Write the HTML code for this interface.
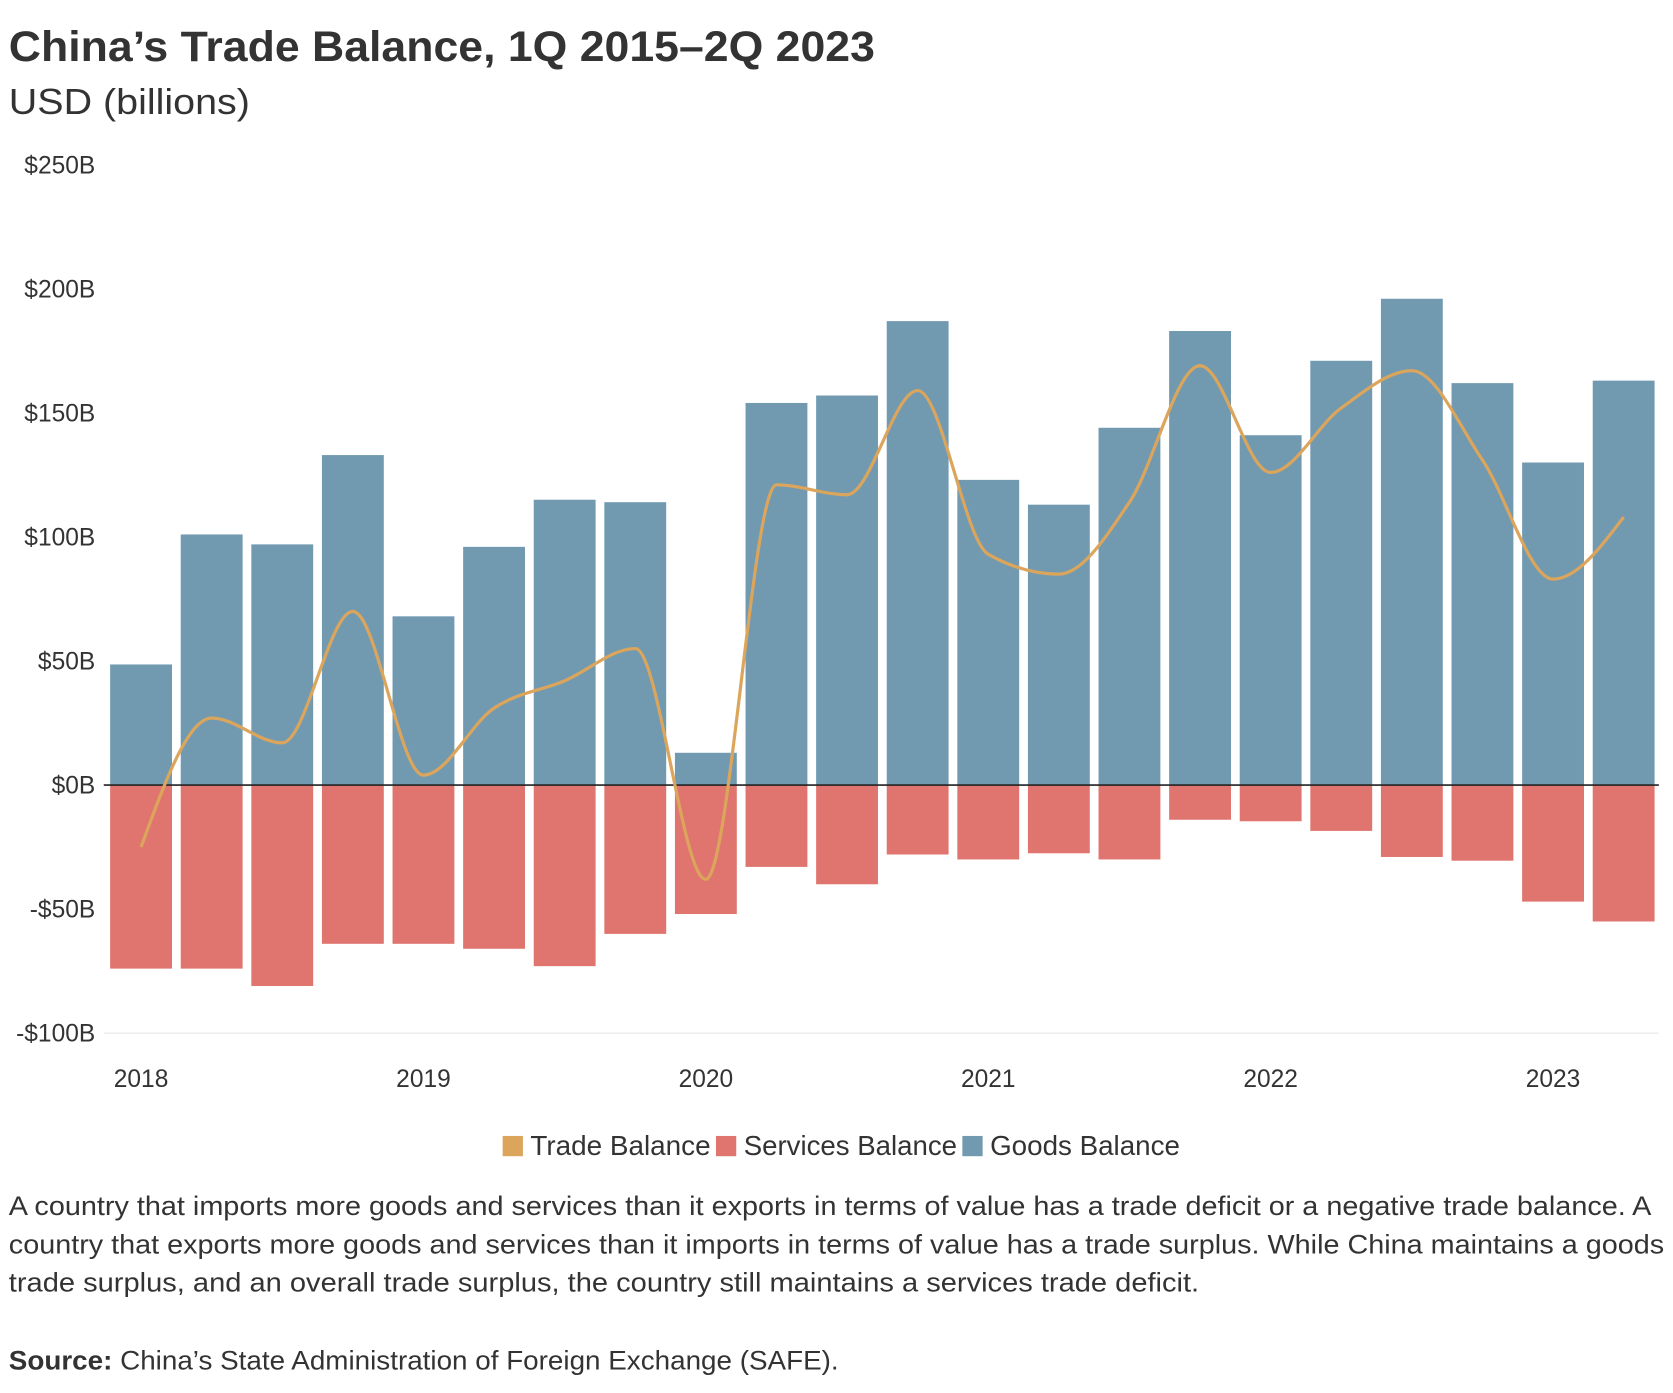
<!DOCTYPE html>
<html><head><meta charset="utf-8"><style>
html,body{margin:0;padding:0;background:#fff;}
svg{display:block;}
text{font-family:"Liberation Sans",sans-serif;fill:#333;}
</style></head><body>
<svg id="chart" width="1673" height="1393" viewBox="0 0 1568 1306" xmlns="http://www.w3.org/2000/svg">
<text x="8" y="57" font-size="40" font-weight="bold" textLength="812" lengthAdjust="spacingAndGlyphs">China’s Trade Balance, 1Q 2015–2Q 2023</text>
<text x="8" y="107" font-size="34" textLength="226" lengthAdjust="spacingAndGlyphs">USD (billions)</text>
<g id="yticks"></g>
<g id="bars"></g>
<g id="line"></g>
<g id="xticks"></g>
<g>
<rect x="471" y="1065" width="19" height="19" fill="#dca55c"/>
<text x="497" y="1083" font-size="26" textLength="169" lengthAdjust="spacingAndGlyphs">Trade Balance</text>
<rect x="671" y="1065" width="19" height="19" fill="#e0756f"/>
<text x="697" y="1083" font-size="26" textLength="200" lengthAdjust="spacingAndGlyphs">Services Balance</text>
<rect x="902" y="1065" width="19" height="19" fill="#719ab1"/>
<text x="928" y="1083" font-size="26" textLength="178" lengthAdjust="spacingAndGlyphs">Goods Balance</text>
</g>
<g font-size="25">
<text x="8" y="1139" textLength="1540" lengthAdjust="spacingAndGlyphs">A country that imports more goods and services than it exports in terms of value has a trade deficit or a negative trade balance. A</text>
<text x="8" y="1175" textLength="1552" lengthAdjust="spacingAndGlyphs">country that exports more goods and services than it imports in terms of value has a trade surplus. While China maintains a goods</text>
<text x="8" y="1211" textLength="1116" lengthAdjust="spacingAndGlyphs">trade surplus, and an overall trade surplus, the country still maintains a services trade deficit.</text>
</g>
<text x="8" y="1284" font-size="25" textLength="778" lengthAdjust="spacingAndGlyphs"><tspan font-weight="bold">Source:</tspan> China’s State Administration of Foreign Exchange (SAFE).</text>
</svg>
<script>
const goods=[48.6,101,97,133,68,96,115,114,13,154,157,187,123,113,144,183,141,171,196,162,130,163];
const services=[-74,-74,-81,-64,-64,-66,-73,-60,-52,-33,-40,-28,-30,-27.5,-30,-14,-14.6,-18.5,-29,-30.5,-47,-55];
const trade=[-25,27,17,70,4,31,42,55,-38,121,117,159,93,85,114,169,126,152,167,131,83,108];
const yTicks=[250,200,150,100,50,0,-50,-100];
const yearLabels=["2018","2019","2020","2021","2022","2023"];
const NS="http://www.w3.org/2000/svg";
const y=v=>736-v*116.3/50;
const step=66.19, bw=58, x0=103;
const xc=i=>x0+i*step+bw/2;
function mk(tag,attrs,parent){const e=document.createElementNS(NS,tag);for(const k in attrs)e.setAttribute(k,attrs[k]);parent.appendChild(e);return e;}
const gy=document.getElementById('yticks');
yTicks.forEach(v=>{
  const t=mk('text',{x:89,y:y(v)+8,'font-size':23,'text-anchor':'end'},gy);
  
  
  t.textContent=(v<0?'-$'+(-v):'$'+v)+'B';
  if(v===-100){const l=mk('line',{x1:97,x2:1555,y1:y(v),y2:y(v),stroke:'#e4e4e4','stroke-width':1},gy);
  
  }
});
const gb=document.getElementById('bars');
goods.forEach((v,i)=>{
  const r=mk('rect',{x:x0+i*step,y:y(v),width:bw,height:y(0)-y(v),fill:'#719ab1'},gb);
  
  
});
services.forEach((v,i)=>{
  const r=mk('rect',{x:x0+i*step,y:y(0),width:bw,height:y(v)-y(0),fill:'#e0756f'},gb);
  
  
});
const zl=mk('line',{x1:97,x2:1555,y1:y(0),y2:y(0),stroke:'#222','stroke-width':1.5},gb);


// monotone X interpolation
const px=trade.map((v,i)=>xc(i)), py=trade.map(v=>y(v));
const n=px.length, sl=[], tg=new Array(n);
for(let i=0;i<n-1;i++) sl.push((py[i+1]-py[i])/(px[i+1]-px[i]));
for(let i=1;i<n-1;i++){
  const s0=sl[i-1],s1=sl[i];
  if(s0*s1<=0){tg[i]=0;}else{
    const h0=px[i]-px[i-1],h1=px[i+1]-px[i];
    const p=(s0*h1+s1*h0)/(h0+h1);
    tg[i]=(Math.sign(s0)+Math.sign(s1))*Math.min(Math.abs(s0),Math.abs(s1),0.5*Math.abs(p));
  }
}
tg[0]=(3*sl[0]-tg[1])/2; tg[n-1]=(3*sl[n-2]-tg[n-2])/2;
let d='M'+px[0]+','+py[0];
for(let i=0;i<n-1;i++){
  const dx=(px[i+1]-px[i])/3;
  d+=' C'+(px[i]+dx)+','+(py[i]+dx*tg[i])+' '+(px[i+1]-dx)+','+(py[i+1]-dx*tg[i+1])+' '+px[i+1]+','+py[i+1];
}
const pl=mk('path',{d:d,fill:'none',stroke:'#dca55c','stroke-width':3},document.getElementById('line'));


const gx=document.getElementById('xticks');
yearLabels.forEach((lab,k)=>{
  const t=mk('text',{x:xc(k*4),y:1019,'font-size':23,'text-anchor':'middle'},gx);
  
  
  t.textContent=lab;
});
</script>
</body></html>
